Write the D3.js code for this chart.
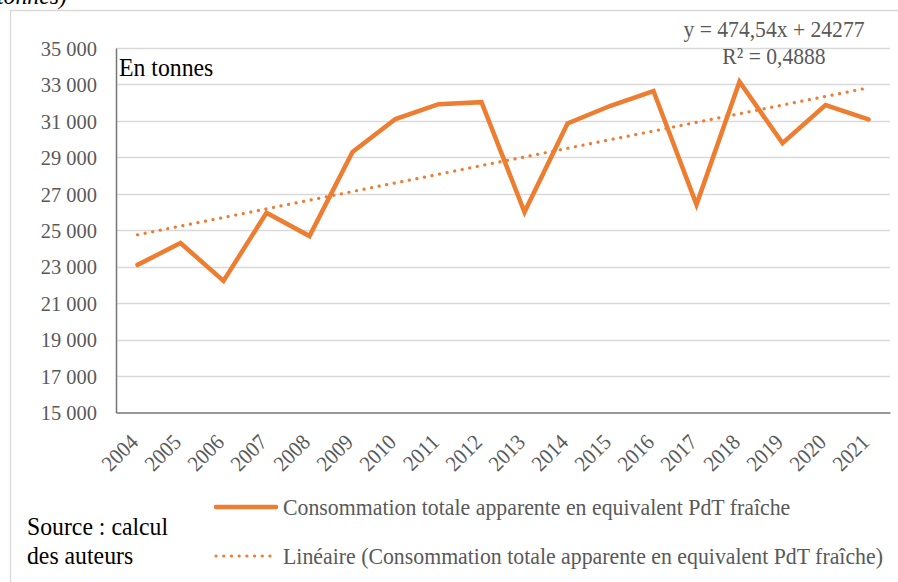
<!DOCTYPE html>
<html>
<head>
<meta charset="utf-8">
<script src="https://cdn.jsdelivr.net/npm/d3@7"></script>
<style>
body { margin: 0; background: #fff; }
svg text { font-family: "Liberation Serif", "DejaVu Serif", "Times New Roman", Times, serif !important; }
.grid line { stroke: #d9d9d9; stroke-width: 1.3; }
.axis text { fill: #595959; font-size: 22px; }
</style>
</head>
<body>
<script>
// consommation totale apparente, equivalent PdT fraiche (tonnes)
var years = ['2004', '2005', '2006', '2007', '2008', '2009', '2010', '2011', '2012',
             '2013', '2014', '2015', '2016', '2017', '2018', '2019', '2020', '2021']
var consumption = [23100, 24300, 22220, 25960, 24680, 29300, 31100, 31920, 32030,
                   26000, 30860, 31830, 32640, 26410, 33150, 29780, 31870, 31080]
var yTicks = [15000, 17000, 19000, 21000, 23000, 25000, 27000, 29000, 31000, 33000, 35000]
// excel trend line, as printed on the chart
var trendSlope = 474.54
var trendIntercept = 24277
var trendLabel = ['y = 474,54x + 24277', 'R² = 0,4888']
var seriesName = 'Consommation totale apparente en equivalent PdT fraîche'
var trendName = 'Linéaire (Consommation totale apparente en equivalent PdT fraîche)'
var sourceLines = ['Source : calcul', 'des auteurs']

var W = 898
var H = 582
var orange = '#ed7d31'
var margin = { top: 48, right: 8, bottom: 170, left: 116 }
var width = 890 - margin.left
var height = 412.5 - margin.top

// the source picture is a bit squeezed sideways, so text gets a x-scale
function squeeze (sel, sx) {
  sel.attr('transform', function () {
    var tx = +this.getAttribute('x') || 0
    var ty = +this.getAttribute('y') || 0
    return 'translate(' + tx + ',' + ty + ') scale(' + sx + ',1)'
  }).attr('x', 0).attr('y', 0)
}

var svg = d3.select('body').append('svg')
  .attr('width', W)
  .attr('height', H)
  .style('display', 'block')

// outer frame of the chart object (only top and left are in the picture)
svg.append('path')
  .attr('d', 'M10.5,' + H + 'V10.5H' + W)
  .attr('fill', 'none')
  .attr('stroke', '#d9d9d9')
  .attr('stroke-width', 1.3)

// caption cut off by the crop, as in the source
svg.append('text')
  .attr('x', -3)
  .attr('y', 4)
  .style('font-size', '25px')
  .style('font-style', 'italic')
  .text('tonnes)')
  .call(squeeze, 0.95)

var x = d3.scaleBand()
  .domain(years)
  .range([0, width])

var y = d3.scaleLinear()
  .domain([15000, 35000])
  .range([height, 0])

var main = svg.append('g')
  .attr('transform', 'translate(' + margin.left + ',' + margin.top + ')')

// gridlines
main.append('g')
  .attr('class', 'grid')
  .selectAll('line')
  .data(yTicks.slice(1))
  .enter()
  .append('line')
  .attr('x1', 0)
  .attr('x2', width)
  .attr('y1', function (d) { return Math.round(y(d)) + 0.5 })
  .attr('y2', function (d) { return Math.round(y(d)) + 0.5 })

var fmt = function (d) { return d3.format(',')(d).replace(',', ' ') }

// y axis
var yAxis = main.append('g')
  .attr('class', 'axis')
  .call(d3.axisLeft(y).tickValues(yTicks).tickFormat(fmt).tickSize(0).tickPadding(19))
yAxis.attr('font-size', null).attr('font-family', null)
yAxis.select('.domain').attr('stroke', '#767676').attr('stroke-width', 1.5)
yAxis.selectAll('text')
  .attr('dy', '0.33em')
  .call(squeeze, 0.93)

// x axis
var xAxis = main.append('g')
  .attr('class', 'axis')
  .attr('transform', 'translate(0,' + height + ')')
  .call(d3.axisBottom(x).tickSize(0).tickPadding(0))
xAxis.attr('font-size', null).attr('font-family', null)
xAxis.select('.domain').attr('stroke', '#767676').attr('stroke-width', 1.5)
xAxis.selectAll('text')
  .attr('text-anchor', 'end')
  .attr('x', 0)
  .attr('y', 0)
  .attr('dy', 0)
  .style('font-size', '22px')
  .attr('transform', 'translate(2,31) rotate(-45) scale(0.93,1)')

// trend line
var trendX = d3.scaleLinear()
  .domain([1, years.length])
  .range([x(years[0]) + x.bandwidth() / 2, x(years[years.length - 1]) + x.bandwidth() / 2])

main.append('line')
  .attr('x1', trendX(1))
  .attr('x2', trendX(years.length))
  .attr('y1', y(trendIntercept + trendSlope * 1))
  .attr('y2', y(trendIntercept + trendSlope * years.length))
  .attr('stroke', orange)
  .attr('stroke-width', 3.2)
  .attr('stroke-linecap', 'round')
  .attr('stroke-dasharray', '0.1,7.6')

// series
var line = d3.line()
  .x(function (d, i) { return x(years[i]) + x.bandwidth() / 2 })
  .y(function (d) { return y(d) })

main.append('path')
  .datum(consumption)
  .attr('d', line)
  .attr('fill', 'none')
  .attr('stroke', orange)
  .attr('stroke-width', 4.5)
  .attr('stroke-linejoin', 'miter')
  .attr('stroke-linecap', 'round')

// trend equation
svg.append('g')
  .selectAll('text')
  .data(trendLabel)
  .enter()
  .append('text')
  .attr('x', 774)
  .attr('y', function (d, i) { return 37 + i * 26.5 })
  .attr('text-anchor', 'middle')
  .style('font-size', '23px')
  .style('fill', '#595959')
  .text(function (d) { return d })
  .call(squeeze, 0.94)

// unit label
svg.append('text')
  .attr('x', 119)
  .attr('y', 76)
  .style('font-size', '25px')
  .style('fill', '#000')
  .text('En tonnes')
  .call(squeeze, 0.95)

// source
svg.append('g')
  .selectAll('text')
  .data(sourceLines)
  .enter()
  .append('text')
  .attr('x', 27)
  .attr('y', function (d, i) { return 535 + i * 29 })
  .style('font-size', '25px')
  .style('fill', '#000')
  .text(function (d) { return d })
  .call(squeeze, 0.95)

// legend
var legend = svg.append('g')
var legendRows = [
  { name: seriesName, dash: null, width: 4.5 },
  { name: trendName, dash: '0.1,7.6', width: 3.2 }
]
var row = legend.selectAll('g')
  .data(legendRows)
  .enter()
  .append('g')
  .attr('transform', function (d, i) { return 'translate(0,' + (507 + i * 49) + ')' })

row.append('line')
  .attr('x1', 216)
  .attr('x2', 276)
  .attr('stroke', orange)
  .attr('stroke-width', function (d) { return d.width })
  .attr('stroke-linecap', 'round')
  .attr('stroke-dasharray', function (d) { return d.dash })

row.append('text')
  .attr('x', 283)
  .attr('y', 7.5)
  .style('font-size', '22.5px')
  .style('fill', '#595959')
  .text(function (d) { return d.name })
  .call(squeeze, 0.97)
</script>
</body>
</html>
